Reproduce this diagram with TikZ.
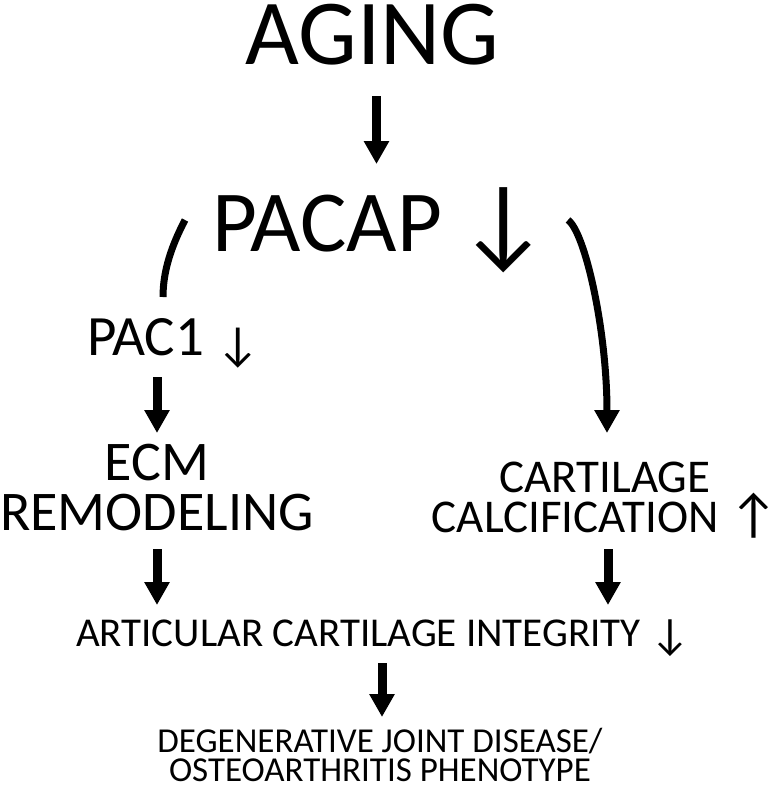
\documentclass[tikz,border=0pt]{standalone}
\usepackage{fontspec}
\setmainfont{Carlito}
\usetikzlibrary{arrows.meta}
\newcommand{\dnarr}[2]{\raisebox{#2}{\fontsize{#1}{#1}\selectfont ↓}}
\newcommand{\uparr}[2]{\raisebox{#2}{\fontsize{#1}{#1}\selectfont ↑}}
\begin{document}
\begin{tikzpicture}[x=1pt,y=-1pt,
  lbl/.style={inner sep=0pt, outer sep=0pt},
  blk/.style={line width=9pt, -{Triangle[length=23pt,width=24pt]}},
  curv/.style={line width=7pt}]
\useasboundingbox (0,0) rectangle (780,785);
\node[lbl, anchor=base, font=\fontsize{93}{93}\selectfont] (aging) at (372.5,64) {AGING};
\node[lbl, anchor=base west, font=\fontsize{87}{87}\selectfont] (pacap) at (212,251) {PACAP\hspace{0.18em}\dnarr{102}{-5pt}};
\node[lbl, anchor=base west, font=\fontsize{57}{57}\selectfont] (pac1) at (87,355) {PAC1 \dnarr{48}{-5pt}};
\node[lbl, anchor=base, align=center, font=\fontsize{56}{50}\selectfont] (ecm) at (157,530) {ECM\\REMODELING};
\node[lbl, anchor=base east, align=center, font=\fontsize{47}{40}\selectfont] (cart) at (778,532) {CARTILAGE\\CALCIFICATION \uparr{54}{0pt}};
\node[lbl, anchor=base west, font=\fontsize{41}{41}\selectfont] (aci) at (76,646) {ARTICULAR CARTILAGE INTEGRITY \dnarr{44}{-3pt}};
\node[lbl, anchor=base, align=center, font=\fontsize{35}{29}\selectfont] (djd) at (380,781) {DEGENERATIVE JOINT DISEASE/\\OSTEOARTHRITIS PHENOTYPE};
% connector ends
\coordinate (a1s) at (376.5,96);   \coordinate (a1e) at (376.5,164);
\coordinate (lcs) at (185,220);    \coordinate (lce) at (163,297);
\coordinate (rcs) at (568,220);    \coordinate (rce) at (607,433);
\coordinate (l1s) at (157,377);    \coordinate (l1e) at (157,433);
\coordinate (l2s) at (157,549);    \coordinate (l2e) at (157,605);
\coordinate (r2s) at (608,549);    \coordinate (r2e) at (608,605);
\coordinate (m1s) at (382,663);    \coordinate (m1e) at (382,717);
\draw[blk] (a1s) -- (a1e);
\draw[curv] (lcs) .. controls (172,245) and (163,270) .. (lce);
\draw[curv, -{Triangle[length=23pt,width=24pt]}] (rcs) .. controls (585,232) and (607,330) .. (rce);
\draw[blk] (l1s) -- (l1e);
\draw[blk] (l2s) -- (l2e);
\draw[blk] (r2s) -- (r2e);
\draw[blk] (m1s) -- (m1e);
\end{tikzpicture}
\end{document}
